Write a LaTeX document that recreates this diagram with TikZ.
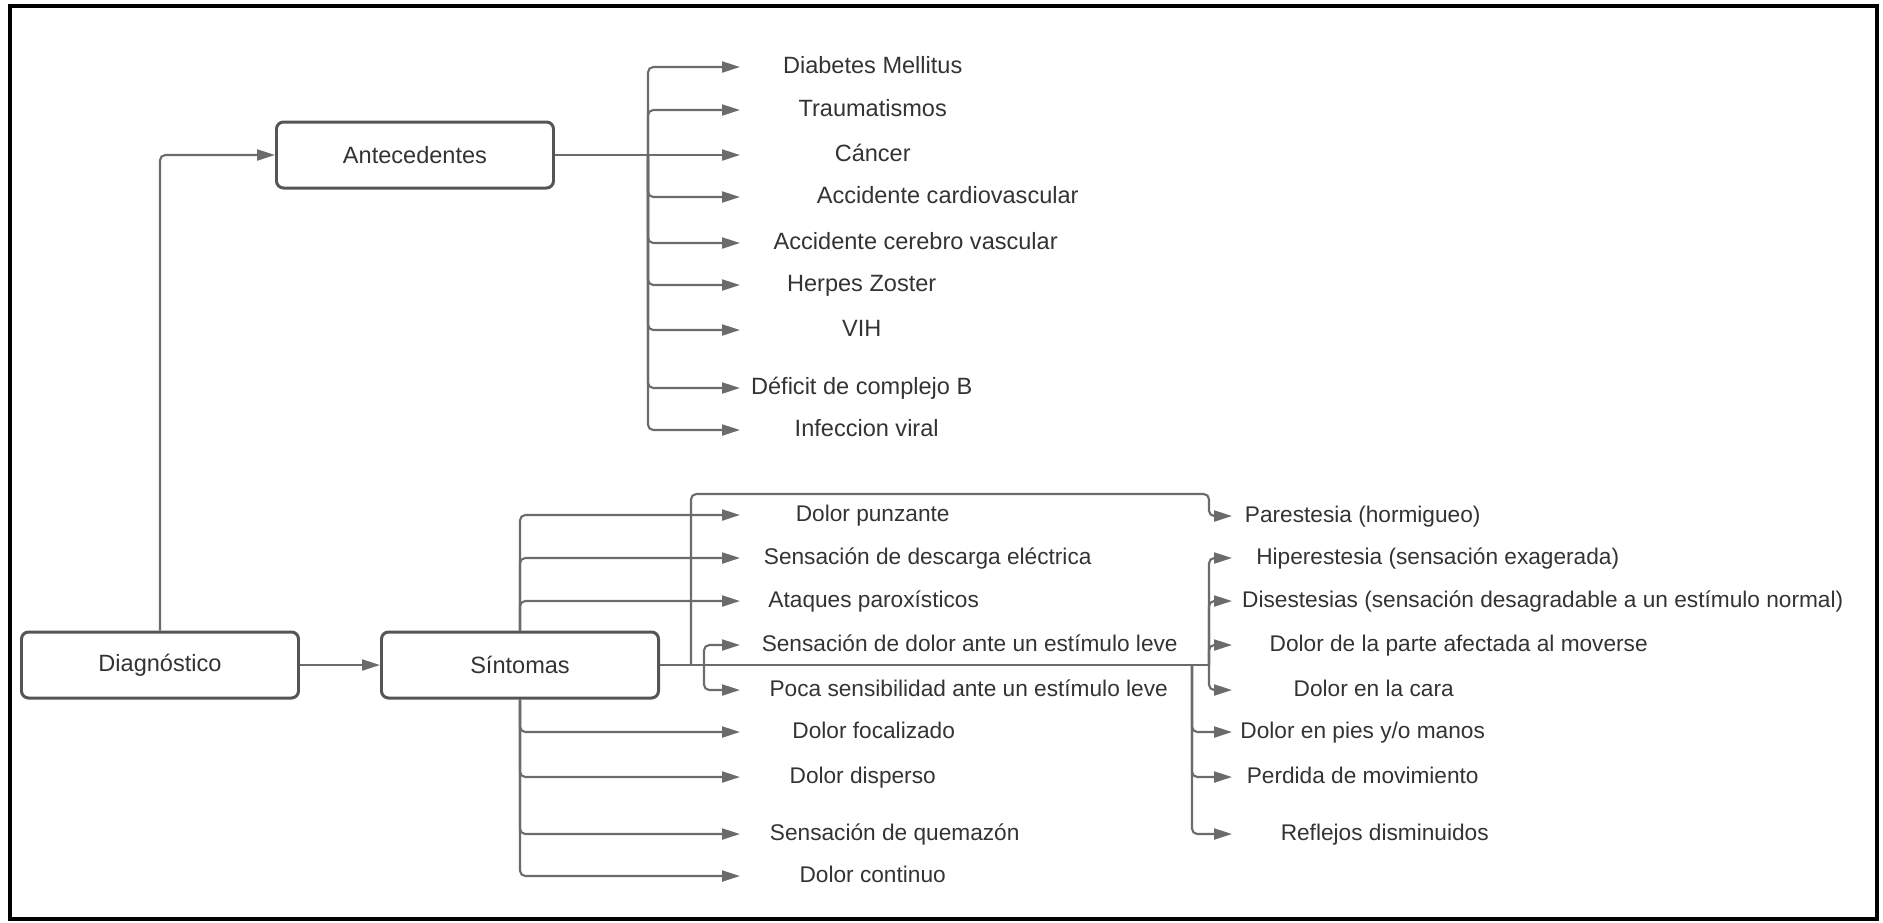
\documentclass[tikz,border=0pt]{standalone}
\usepackage{fontspec}
\setmainfont{Liberation Sans}
\usepackage{xcolor}
\usetikzlibrary{arrows.meta, calc}
\definecolor{linegray}{HTML}{6B6B6B}
\definecolor{boxgray}{HTML}{555555}
\definecolor{textgray}{HTML}{333333}

\begin{document}
\begin{tikzpicture}[x=0.1mm, y=-0.1mm, >={Triangle[length=1.8mm, width=1.1mm]},
  every node/.style={font=\fontsize{6.7}{8}\selectfont, text=textgray, inner sep=0pt},
  box/.style={draw=boxgray, line width=0.85pt, rounded corners=2pt, minimum width=27.7mm, minimum height=6.6mm},
  item/.style={anchor=west, text height=4.8pt, text depth=1.3pt},
  sitem/.style={item, font=\fontsize{6.45}{7.7}\selectfont},
  link/.style={draw=linegray, line width=0.6pt, rounded corners=1.5pt}]
  \useasboundingbox (0,0) rectangle (1883,922);
  \draw[line width=1pt] (10,6) rectangle (1877,919);

  % main boxes
  \node[box] (diag) at (160,665) {Diagnóstico};
  \node[box] (sint) at (520,665) {Síntomas};
  \node[box] (ante) at (415,155) {Antecedentes};
  \draw[link, ->] (diag.north) |- (ante.west);
  \draw[link, ->] (diag.east) -- (sint.west);

  % antecedentes
  \coordinate (aj) at (648,155);
  \node[item, minimum width=26.4mm] (diabetes) at (740,67) {Diabetes Mellitus};
  \node[item, minimum width=26.4mm] (trauma) at (740,110) {Traumatismos};
  \node[item, minimum width=26.4mm] (cancer) at (740,155) {Cáncer};
  \node[item, minimum width=41.4mm] (cardio) at (740,197) {Accidente cardiovascular};
  \node[item, minimum width=35.0mm] (cerebro) at (740,243) {Accidente cerebro vascular};
  \node[item, minimum width=24.2mm] (herpes) at (740,285) {Herpes Zoster};
  \node[item, minimum width=24.2mm] (vih) at (740,330) {VIH};
  \node[item, minimum width=24.2mm] (deficit) at (740,388) {Déficit de complejo B};
  \node[item, minimum width=25.2mm] (viral) at (740,430) {Infeccion viral};
  \draw[link] (ante.east) -- (aj);
  \draw[link, ->] (aj) |- (diabetes.west);
  \draw[link, ->] (aj) |- (trauma.west);
  \draw[link, ->] (aj) -- (cancer.west);
  \draw[link, ->] (aj) |- (cardio.west);
  \draw[link, ->] (aj) |- (cerebro.west);
  \draw[link, ->] (aj) |- (herpes.west);
  \draw[link, ->] (aj) |- (vih.west);
  \draw[link, ->] (aj) |- (deficit.west);
  \draw[link, ->] (aj) |- (viral.west);

  % sintomas, left column
  \node[sitem, minimum width=26.4mm] (punzante) at (740,515) {Dolor punzante};
  \node[sitem, minimum width=37.4mm] (descarga) at (740,558) {Sensación de descarga eléctrica};
  \node[sitem, minimum width=26.6mm] (ataques) at (740,601) {Ataques paroxísticos};
  \node[sitem, minimum width=45.8mm] (leve) at (740,645) {Sensación de dolor ante un estímulo leve};
  \node[sitem, minimum width=45.6mm] (poca) at (740,690) {Poca sensibilidad ante un estímulo leve};
  \node[sitem, minimum width=26.6mm] (focal) at (740,732) {Dolor focalizado};
  \node[sitem, minimum width=24.4mm] (disperso) at (740,777) {Dolor disperso};
  \node[sitem, minimum width=30.8mm] (quemazon) at (740,834) {Sensación de quemazón};
  \node[sitem, minimum width=26.4mm] (continuo) at (740,876) {Dolor continuo};
  \draw[link, ->] (sint.north) |- (punzante.west);
  \draw[link, ->] (sint.north) |- (descarga.west);
  \draw[link, ->] (sint.north) |- (ataques.west);
  \draw[link, ->] (sint.south) |- (focal.west);
  \draw[link, ->] (sint.south) |- (disperso.west);
  \draw[link, ->] (sint.south) |- (quemazon.west);
  \draw[link, ->] (sint.south) |- (continuo.west);

  % sintomas, right column
  \node[sitem, minimum width=26.0mm] (parest) at (1232,516) {Parestesia (hormigueo)};
  \node[sitem, minimum width=41.0mm] (hiper) at (1232,558) {Hiperestesia (sensación exagerada)};
  \node[sitem, minimum width=62.0mm] (disest) at (1232,601) {Disestesias (sensación desagradable a un estímulo normal)};
  \node[sitem, minimum width=45.2mm] (mover) at (1232,645) {Dolor de la parte afectada al moverse};
  \node[sitem, minimum width=28.2mm] (cara) at (1232,690) {Dolor en la cara};
  \node[sitem, minimum width=26.0mm] (pies) at (1232,732) {Dolor en pies y/o manos};
  \node[sitem, minimum width=26.0mm] (movim) at (1232,777) {Perdida de movimiento};
  \node[sitem, minimum width=30.4mm] (reflejos) at (1232,834) {Reflejos disminuidos};

  \coordinate (sa) at (691,665);
  \coordinate (sb) at (704,665);
  \coordinate (sc) at (1192,665);
  \coordinate (sd) at (1209,665);
  \coordinate (loop) at (1209,494);
  \draw[link] (sint.east) -- (sd);
  \draw[link, ->] (sa) |- (loop) |- (parest.west);
  \draw[link, ->] (sb) |- (leve.west);
  \draw[link, ->] (sb) |- (poca.west);
  \draw[link, ->] (sc) |- (pies.west);
  \draw[link, ->] (sc) |- (movim.west);
  \draw[link, ->] (sc) |- (reflejos.west);
  \draw[link, ->] (sd) |- (hiper.west);
  \draw[link, ->] (sd) |- (disest.west);
  \draw[link, ->] (sd) |- (mover.west);
  \draw[link, ->] (sd) |- (cara.west);
\end{tikzpicture}
\end{document}
